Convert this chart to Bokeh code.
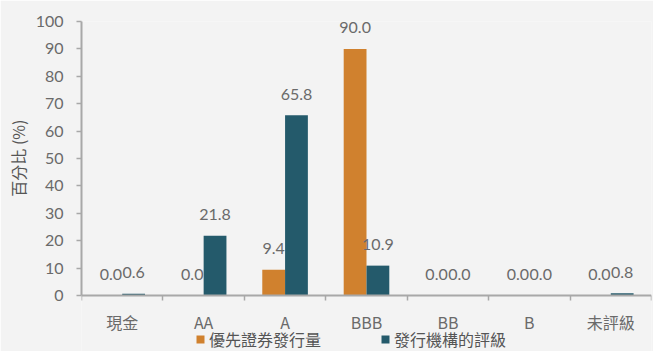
from bokeh.plotting import figure
from bokeh.models import (ColumnDataSource, FixedTicker, Legend, LegendItem, Range1d, Title)
from bokeh.core.properties import value
from bokeh.embed import file_html
from bokeh.resources import INLINE
import numpy as np

categories = ["現金", "AA", "A", "BBB", "BB", "B", "未評級"]
issuance = [0.0, 0.0, 9.4, 90.0, 0.0, 0.0, 0.0]
issuer_rating = [0.6, 21.8, 65.8, 10.9, 0.0, 0.0, 0.8]
series_names = ["優先證券發行量", "發行機構的評級"]
y_ticks = [0, 10, 20, 30, 40, 50, 60, 70, 80, 90, 100]
y_title = "百分比 (%)"

ORANGE = "#D0812E"
TEAL = "#245A6B"
BG = "#F3F3F3"
GREY_TXT = "#6A6A6A"
AXIS = "#A8A8A8"
NUM_FONT = "Lato"
CJK_FONT = "Noto Sans CJK TC"

# layout: plot height, top border, pixel height of the 0..100 band
H, TOP, BAND = 351, 21, 274
frame_h = H - TOP
y_min = -100.0 * (frame_h - BAND) / BAND   # room below 0 for labels and legend

centers = np.arange(len(categories)) + 0.5
bw = 0.28
src_a = ColumnDataSource(dict(x=centers - bw / 2, y=issuance,
                              lbl=[f"{v:.1f}" for v in issuance]))
src_b = ColumnDataSource(dict(x=centers + bw / 2, y=issuer_rating,
                              lbl=[f"{v:.1f}" for v in issuer_rating]))

p = figure(width=653, height=H, output_backend="svg", toolbar_location=None,
           x_range=Range1d(0, len(categories)), y_range=Range1d(y_min, 100),
           background_fill_color=BG, border_fill_color=BG,
           min_border_left=0, min_border_right=2, min_border_top=TOP,
           min_border_bottom=0)
p.outline_line_color = None
p.grid.visible = False

r_a = p.vbar(x="x", top="y", width=bw, source=src_a, color=ORANGE, line_width=0)
r_b = p.vbar(x="x", top="y", width=bw, source=src_b, color=TEAL, line_width=0)

for src in (src_a, src_b):
    p.text(x="x", y="y", text="lbl", source=src, text_align="center",
           text_baseline="alphabetic", y_offset=-21,
           text_font=value(NUM_FONT), text_font_size="16px", text_color=GREY_TXT)

# x axis drawn at y=0: labels at category centres, ticks at category boundaries
xa = p.xaxis[0]
xa.fixed_location = 0
xa.ticker = FixedTicker(ticks=list(centers), minor_ticks=list(range(len(categories) + 1)))
xa.major_label_overrides = {float(c): cat for c, cat in zip(centers, categories)}
xa.major_tick_out = 0
xa.major_tick_in = 0
xa.minor_tick_out = 5
xa.minor_tick_in = 0
xa.minor_tick_line_color = AXIS
xa.minor_tick_line_width = 1.5
xa.axis_line_color = AXIS
xa.axis_line_width = 2
xa.major_label_standoff = 9
xa.major_label_text_font = CJK_FONT
xa.major_label_text_font_size = "16px"
xa.major_label_text_color = GREY_TXT

ya = p.yaxis[0]
ya.bounds = (0, 100)
ya.ticker = FixedTicker(ticks=y_ticks)
ya.minor_tick_line_color = None
ya.major_tick_in = 0
ya.major_tick_out = 5
ya.major_tick_line_color = AXIS
ya.major_tick_line_width = 1.5
ya.axis_line_color = AXIS
ya.axis_line_width = 2
ya.major_label_standoff = 13
ya.major_label_text_font = NUM_FONT
ya.major_label_text_font_size = "16px"
ya.major_label_text_color = GREY_TXT

p.add_layout(Title(text=y_title, align="right", offset=98, standoff=6,
                   text_font=CJK_FONT, text_font_size="16px",
                   text_font_style="normal", text_color="#555555"), "left")

legend = Legend(items=[LegendItem(label=series_names[0], renderers=[r_a]),
                       LegendItem(label=series_names[1], renderers=[r_b])],
                orientation="horizontal", location=(114, 0),
                background_fill_alpha=0, border_line_alpha=0,
                glyph_width=10, glyph_height=10, label_standoff=4, spacing=59,
                padding=0, margin=0, label_height=16,
                label_text_font=CJK_FONT, label_text_font_size="16px",
                label_text_color="#555555")
p.add_layout(legend, "center")

open("out.html", "w").write(file_html(p, INLINE))
